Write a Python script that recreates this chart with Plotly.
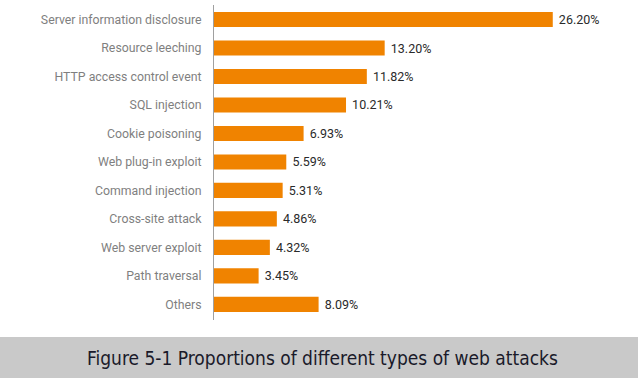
import plotly.graph_objects as go

categories = ["Server information disclosure", "Resource leeching", "HTTP access control event",
              "SQL injection", "Cookie poisoning", "Web plug-in exploit", "Command injection",
              "Cross-site attack", "Web server exploit", "Path traversal", "Others"]
values = [26.20, 13.20, 11.82, 10.21, 6.93, 5.59, 5.31, 4.86, 4.32, 3.45, 8.09]
caption = "Figure 5-1 Proportions of different types of web attacks"

W, H = 638, 389
ml, mr, mt, mb = 214, 10, 5, 69
pw, ph = W - ml - mr, H - mt - mb

def px(x):
    return (x - ml) / pw

def py(y):
    return (H - mb - y) / ph

fig = go.Figure(go.Bar(
    x=values, y=categories, orientation="h",
    marker=dict(color="#F08300", line=dict(width=0)),
    texttemplate="\u00a0%{x:.2f}%", textposition="outside",
    textfont=dict(family="Roboto", size=12.5, color="#2a2a2a"),
    cliponaxis=False, width=0.53, hoverinfo="skip",
))

fig.update_layout(
    width=W, height=H, margin=dict(l=ml, r=mr, t=mt, b=mb),
    plot_bgcolor="white", paper_bgcolor="white", showlegend=False,
    xaxis=dict(range=[0, pw / 12.93], visible=False, fixedrange=True),
    yaxis=dict(range=[len(categories) - 0.45, -0.51], showline=True, linecolor="#a0a0a0",
               linewidth=1, showgrid=False, ticks="", ticklabelstandoff=9, fixedrange=True,
               tickfont=dict(family="Roboto", size=12.3, color="#7f7f7f")),
    font=dict(family="Roboto"),
)

fig.add_shape(type="rect", xref="paper", yref="paper",
              x0=px(0), x1=px(W), y0=py(378), y1=py(337),
              fillcolor="#c9c9c9", line=dict(width=0), layer="below")
fig.add_annotation(text=caption, xref="paper", yref="paper", x=px(322), y=py(357.5),
                   xanchor="center", yanchor="middle", showarrow=False,
                   font=dict(family="DejaVu Sans Condensed, Liberation Sans Narrow", size=19, color="#1a1a2a"))

fig.write_html("out.html", config={"displayModeBar": False},
               post_script="document.body.style.margin='0';document.body.style.overflow='hidden';")
